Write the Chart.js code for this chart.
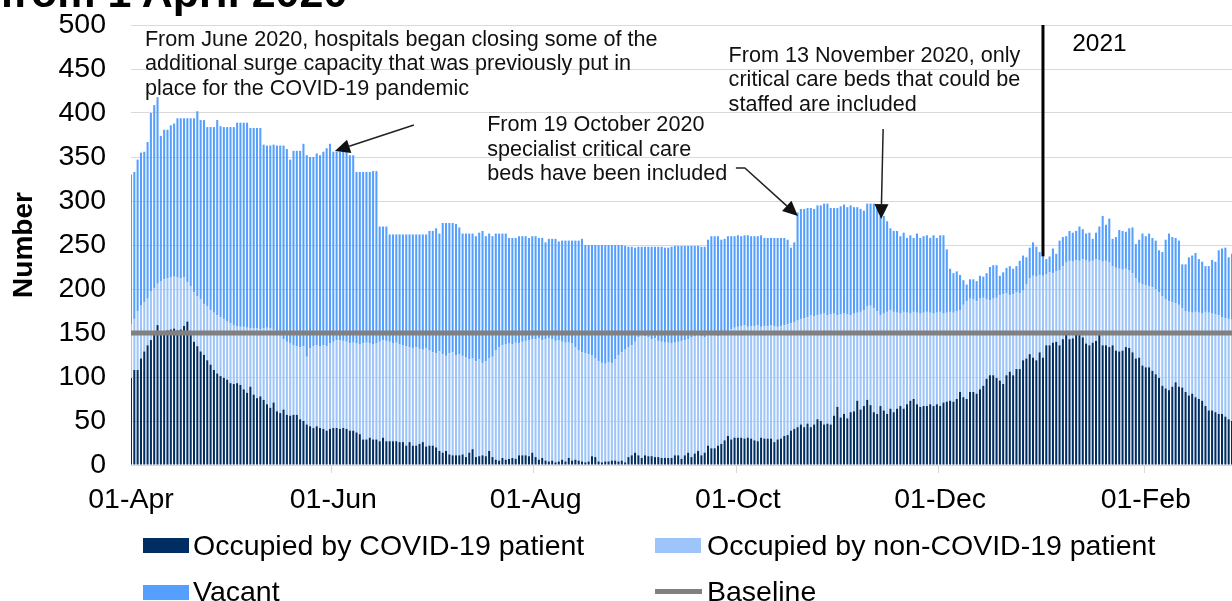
<!DOCTYPE html>
<html>
<head>
<meta charset="utf-8">
<script src="https://cdn.jsdelivr.net/npm/chart.js@4.4.1/dist/chart.umd.min.js"></script>
<style>
body { margin: 0; background: #fff; font-family: "Liberation Sans", Arial, sans-serif; }
#page { position: relative; width: 1232px; height: 601px; overflow: hidden; }
#title { position: absolute; left: 0; top: -29px; font-size: 43px; line-height: 43px; font-weight: bold; white-space: nowrap; color: #000; }
canvas { position: absolute; left: 0; top: 0; }
.key { position: absolute; }
.lab { position: absolute; font-size: 28.5px; line-height: 28px; white-space: nowrap; color: #000; }
</style>
</head>
<body>
<div id="page">
  <canvas id="beds_chart" width="1232" height="601"></canvas>
  <div id="title">from 1 April 2020</div>
  <div class="key" style="left:143px;top:538px;width:46px;height:15px;background:#002D62"></div>
  <div class="lab" style="left:193px;top:531px">Occupied by COVID-19 patient</div>
  <div class="key" style="left:655px;top:538px;width:46px;height:15px;background:#9EC5FA"></div>
  <div class="lab" style="left:707px;top:531px">Occupied by non-COVID-19 patient</div>
  <div class="key" style="left:143px;top:585px;width:46px;height:15px;background:#55A0FF"></div>
  <div class="lab" style="left:193px;top:577px">Vacant</div>
  <div class="key" style="left:655px;top:589px;width:47px;height:5px;background:#808080"></div>
  <div class="lab" style="left:707px;top:577px">Baseline</div>
</div>
<script>
// daily values from 1 April 2020
const covid = [
    99, 108, 108, 121, 129, 136, 142, 148, 159, 150,
    152, 153, 154, 155, 153, 154, 158, 163, 150, 140,
    135, 129, 125, 119, 114, 108, 104, 101, 99, 97,
    93, 92, 93, 91, 86, 82, 89, 80, 76, 78,
    74, 69, 65, 71, 61, 59, 63, 57, 56, 57,
    57, 52, 50, 46, 44, 42, 44, 42, 41, 39,
    41, 42, 42, 41, 42, 41, 39, 39, 37, 35,
    29, 29, 31, 29, 29, 27, 31, 27, 27, 27,
    27, 26, 26, 22, 26, 22, 22, 24, 26, 21,
    22, 22, 20, 16, 14, 16, 12, 11, 11, 11,
    12, 9, 14, 18, 9, 10, 11, 10, 16, 9,
    6, 5, 8, 6, 7, 8, 7, 11, 11, 11,
    10, 14, 9, 6, 8, 5, 4, 5, 3, 4,
    6, 4, 8, 5, 6, 5, 4, 3, 4, 10,
    9, 4, 3, 4, 4, 5, 5, 4, 5, 3,
    9, 11, 14, 11, 8, 11, 10, 10, 9, 9,
    8, 8, 8, 8, 11, 11, 7, 11, 14, 9,
    13, 16, 11, 14, 22, 19, 19, 22, 24, 28,
    33, 29, 31, 31, 31, 30, 31, 30, 28, 27,
    31, 30, 30, 30, 26, 29, 30, 33, 34, 39,
    41, 43, 46, 43, 47, 43, 46, 52, 50, 46,
    47, 46, 56, 66, 54, 58, 53, 60, 61, 73,
    63, 67, 74, 68, 60, 58, 67, 62, 58, 64,
    60, 64, 67, 64, 69, 73, 75, 69, 66, 67,
    67, 69, 67, 69, 67, 71, 72, 73, 72, 75,
    83, 77, 75, 83, 83, 81, 86, 90, 98, 102,
    102, 99, 96, 92, 102, 106, 102, 109, 109, 119,
    121, 126, 122, 119, 128, 122, 136, 136, 139, 140,
    136, 143, 148, 143, 144, 148, 150, 145, 138, 136,
    139, 141, 150, 136, 136, 134, 136, 130, 129, 130,
    134, 133, 128, 121, 122, 113, 111, 111, 107, 103,
    99, 90, 87, 85, 89, 94, 89, 88, 83, 79,
    81, 77, 75, 73, 67, 62, 62, 60, 58, 58,
    55, 52, 50
];
// all occupied beds (COVID + non-COVID)
const occupied = [
    160, 166, 175, 181, 185, 189, 197, 201, 206, 209,
    211, 212, 213, 214, 213, 212, 213, 208, 203, 196,
    192, 188, 183, 180, 176, 173, 170, 168, 166, 163,
    161, 159, 158, 157, 157, 156, 155, 155, 155, 154,
    155, 156, 155, 153, 150, 147, 143, 140, 138, 136,
    135, 134, 135, 123, 133, 135, 136, 135, 136, 135,
    138, 140, 142, 142, 141, 140, 138, 139, 138, 137,
    138, 139, 138, 137, 138, 140, 142, 141, 140, 138,
    139, 137, 136, 135, 134, 133, 134, 132, 131, 133,
    130, 128, 127, 129, 126, 124, 127, 128, 125, 126,
    124, 122, 120, 121, 118, 120, 116, 118, 121, 123,
    130, 134, 136, 137, 138, 137, 139, 138, 140, 141,
    142, 143, 143, 144, 142, 143, 144, 143, 141, 142,
    140, 139, 139, 138, 134, 130, 128, 127, 126, 125,
    121, 118, 116, 115, 117, 116, 120, 125, 128, 131,
    134, 136, 140, 145, 147, 146, 145, 143, 144, 141,
    140, 139, 139, 138, 139, 140, 141, 142, 143, 145,
    146, 147, 146, 145, 147, 148, 147, 146, 148, 149,
    151, 154, 156, 157, 158, 159, 157, 158, 158, 159,
    157, 158, 158, 159, 158, 157, 158, 159, 160, 161,
    162, 164, 166, 167, 168, 170, 169, 170, 171, 172,
    170, 171, 172, 170, 171, 172, 171, 170, 172, 173,
    174, 176, 180, 181, 178, 175, 170, 172, 174, 176,
    174, 173, 172, 174, 173, 172, 174, 173, 172, 173,
    174, 173, 172, 173, 174, 172, 173, 174, 173, 175,
    176, 182, 186, 189, 188, 186, 189, 190, 188, 187,
    189, 190, 193, 194, 195, 193, 194, 196, 195, 198,
    205, 212, 215, 214, 216, 215, 217, 219, 218, 220,
    221, 226, 230, 232, 231, 233, 232, 234, 233, 231,
    232, 234, 233, 231, 232, 230, 226, 224, 223, 222,
    223, 221, 218, 212, 207, 205, 204, 203, 202, 200,
    196, 192, 188, 186, 185, 184, 182, 178, 175, 174,
    173, 174, 173, 172, 174, 173, 172, 171, 170, 168,
    167, 166, 165
];
// all beds (occupied + vacant)
const totalBeds = [
    330, 333, 347, 355, 356, 367, 400, 409, 418, 374,
    381, 381, 386, 388, 394, 394, 394, 394, 394, 394,
    402, 392, 392, 384, 384, 384, 392, 385, 384, 384,
    384, 384, 389, 389, 389, 389, 383, 383, 383, 383,
    364, 363, 363, 364, 363, 363, 363, 359, 347, 357,
    357, 357, 365, 352, 350, 350, 354, 352, 356, 360,
    365, 356, 356, 356, 356, 356, 352, 352, 333, 333,
    333, 333, 333, 334, 334, 271, 271, 271, 262, 262,
    262, 262, 262, 262, 262, 262, 262, 262, 262, 262,
    266, 266, 269, 263, 275, 275, 275, 275, 274, 270,
    263, 263, 263, 263, 260, 264, 266, 260, 263, 260,
    263, 263, 263, 263, 258, 258, 258, 260, 260, 260,
    258, 260, 260, 258, 258, 253, 257, 257, 257, 254,
    255, 255, 255, 255, 255, 255, 257, 250, 250, 250,
    250, 250, 250, 250, 250, 250, 250, 250, 250, 249,
    248, 248, 247, 248, 248, 248, 248, 248, 248, 248,
    248, 247, 247, 248, 249, 249, 249, 249, 249, 249,
    249, 249, 248, 248, 256, 260, 260, 260, 256, 257,
    260, 260, 260, 261, 260, 261, 261, 260, 260, 260,
    261, 258, 258, 258, 258, 258, 258, 258, 256, 247,
    253, 287, 291, 291, 292, 292, 291, 295, 295, 297,
    297, 292, 292, 292, 294, 296, 293, 295, 293, 293,
    291, 289, 297, 297, 297, 293, 283, 283, 277, 269,
    266, 266, 260, 264, 258, 261, 258, 263, 258, 260,
    261, 258, 261, 258, 261, 261, 245, 223, 218, 220,
    216, 210, 205, 211, 211, 209, 215, 214, 218, 225,
    227, 227, 215, 219, 224, 226, 223, 226, 232, 238,
    236, 247, 253, 248, 242, 237, 234, 237, 246, 240,
    255, 259, 260, 266, 264, 266, 271, 268, 263, 264,
    257, 264, 271, 283, 273, 280, 257, 259, 267, 266,
    265, 269, 270, 251, 256, 263, 260, 263, 258, 255,
    244, 242, 256, 263, 259, 258, 255, 228, 228, 236,
    238, 241, 234, 231, 226, 226, 233, 231, 244, 246,
    247, 236, 240
];
const baselineBeds = 150;
const tickLabels = ['01-Apr', '01-Jun', '01-Aug', '01-Oct', '01-Dec', '01-Feb'];
const monthNames = ['Jan', 'Feb', 'Mar', 'Apr', 'May', 'Jun', 'Jul', 'Aug', 'Sep', 'Oct', 'Nov', 'Dec'];

const days = [];
for (let i = 0; i < totalBeds.length; i++) {
    const d = new Date(2020, 3, 1 + i);
    days.push(String(d.getDate()).padStart(2, '0') + '-' + monthNames[d.getMonth()]);
}
const nonCovid = occupied.map((v, i) => v - covid[i]);
const vacant = totalBeds.map((v, i) => v - occupied[i]);

// notes are anchored in (day index, beds) units
const notes = [
    {day: 4.2, beds: 476.5, lines: ['From June 2020, hospitals began closing some of the',
        'additional surge capacity that was previously put in', 'place for the COVID-19 pandemic']},
    {day: 107.4, beds: 379.5, lines: ['From 19 October 2020', 'specialist critical care', 'beds have been included']},
    {day: 180.2, beds: 458.2, lines: ['From 13 November 2020, only', 'critical care beds that could be', 'staffed are included']}
];
const arrows = [
    [[85.3, 386.4], [61.5, 356.8]],
    [[182.4, 337.5], [185.1, 337.5], [201.1, 283]],
    [[226.8, 381.8], [226.2, 279.5]]
];
const yearMark = {day: 275, top: 500, bottom: 237, label: '2021', labelDay: 283.8, labelBeds: 470.5};

const notesPlugin = {
    id: 'notes',
    afterDatasetsDraw(chart) {
        const ctx = chart.ctx;
        const xs = chart.scales.x, ys = chart.scales.y;
        const px = d => xs.getPixelForValue(d);
        const py = v => ys.getPixelForValue(v);
        ctx.save();
        // 2021 marker
        ctx.strokeStyle = '#000';
        ctx.lineWidth = 3;
        ctx.beginPath();
        ctx.moveTo(px(yearMark.day), py(yearMark.top));
        ctx.lineTo(px(yearMark.day), py(yearMark.bottom));
        ctx.stroke();
        ctx.fillStyle = '#000';
        ctx.font = '24.5px "Liberation Sans", Arial, sans-serif';
        ctx.textBaseline = 'alphabetic';
        ctx.fillText(yearMark.label, px(yearMark.labelDay), py(yearMark.labelBeds));

        ctx.font = '21.6px "Liberation Sans", Arial, sans-serif';
        ctx.fillStyle = '#111';
        notes.forEach(n => {
            n.lines.forEach((t, i) => ctx.fillText(t, px(n.day), py(n.beds) + i * 24.5));
        });

        ctx.strokeStyle = '#222';
        ctx.fillStyle = '#111';
        ctx.lineWidth = 1.5;
        arrows.forEach(a => {
            const pts = a.map(p => [px(p[0]), py(p[1])]);
            const tip = pts[pts.length - 1], prev = pts[pts.length - 2];
            const ang = Math.atan2(tip[1] - prev[1], tip[0] - prev[0]);
            const len = 15, half = 7;
            const bx = tip[0] - len * Math.cos(ang), by = tip[1] - len * Math.sin(ang);
            ctx.beginPath();
            ctx.moveTo(pts[0][0], pts[0][1]);
            for (let i = 1; i < pts.length - 1; i++) ctx.lineTo(pts[i][0], pts[i][1]);
            ctx.lineTo(bx, by);
            ctx.stroke();
            ctx.beginPath();
            ctx.moveTo(tip[0], tip[1]);
            ctx.lineTo(bx + half * Math.sin(ang), by - half * Math.cos(ang));
            ctx.lineTo(bx - half * Math.sin(ang), by + half * Math.cos(ang));
            ctx.closePath();
            ctx.fill();
        });
        ctx.restore();
    }
};

Chart.defaults.font.family = '"Liberation Sans", Arial, sans-serif';
Chart.defaults.color = '#000';

const bc_ctx = document.getElementById('beds_chart').getContext('2d');
const beds_chart = new Chart(bc_ctx, {
    type: 'bar',
    data: {
        labels: days,
        datasets: [
            {
                type: 'line',
                label: 'Baseline',
                data: [{x: days[0], y: baselineBeds}, {x: days[days.length - 1], y: baselineBeds}],
                borderColor: '#808080',
                borderWidth: 5,
                pointRadius: 0,
                fill: false,
                stack: 'base',
                order: 0
            },
            {
                label: 'Occupied by COVID-19 patient',
                data: covid,
                backgroundColor: '#002D62',
                stack: 'beds',
                order: 1
            },
            {
                label: 'Occupied by non-COVID-19 patient',
                data: nonCovid,
                backgroundColor: '#9EC5FA',
                stack: 'beds',
                order: 1
            },
            {
                label: 'Vacant',
                data: vacant,
                backgroundColor: '#55A0FF',
                stack: 'beds',
                order: 1
            }
        ]
    },
    options: {
        responsive: false,
        animation: false,
        layout: {padding: {top: 25, right: 0, bottom: 0, left: 0}},
        datasets: {
            bar: {categoryPercentage: 1, barPercentage: 0.62, borderWidth: 0}
        },
        plugins: {
            legend: {display: false},
            tooltip: {enabled: false}
        },
        scales: {
            x: {
                stacked: true,
                offset: false,
                grid: {
                    drawOnChartArea: false,
                    drawTicks: true,
                    tickLength: 8,
                    color: c => tickLabels.includes(days[c.index]) ? '#d9d9d9' : 'rgba(0,0,0,0)'
                },
                border: {color: '#d9d9d9'},
                ticks: {
                    autoSkip: false,
                    maxRotation: 0,
                    padding: 10,
                    font: {size: 28.5},
                    callback: (v, i) => tickLabels.includes(days[i]) ? days[i] : ''
                },
                afterFit: s => { s.height = 136; s.paddingLeft = 0; s.paddingRight = 0; }
            },
            y: {
                stacked: true,
                min: 0,
                max: 500,
                ticks: {stepSize: 50, padding: 25, font: {size: 28.5}},
                grid: {color: '#d9d9d9', drawTicks: false},
                border: {display: false},
                title: {
                    display: true,
                    text: 'Number',
                    font: {size: 28, weight: 'bold'},
                    padding: {top: 7, bottom: 0}
                },
                afterFit: s => { s.width = 131; s.paddingTop = 0; s.paddingBottom = 0; }
            }
        }
    },
    plugins: [notesPlugin]
});
</script>
</body>
</html>
